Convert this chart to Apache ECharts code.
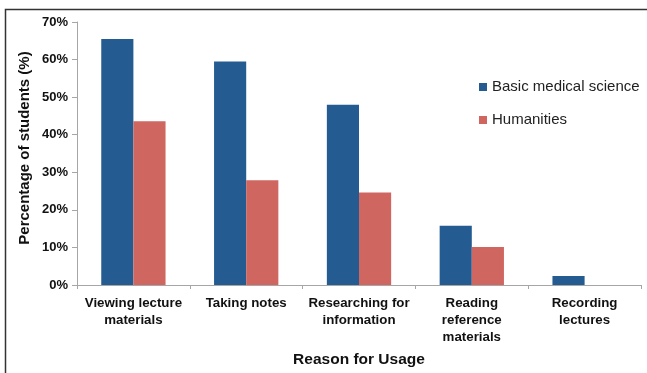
<!DOCTYPE html>
<html>
<head>
<meta charset="utf-8">
<script src="https://cdn.jsdelivr.net/npm/echarts@6/dist/echarts.min.js"></script>
<style>
  html, body { margin: 0; padding: 0; background: #fff; }
  #chart { width: 647px; height: 373px; }
</style>
</head>
<body>
<div id="chart"></div>
<script>
// Reasons students gave for using their devices, by study group (% of students)
const categories = [
  'Viewing lecture\nmaterials',
  'Taking notes',
  'Researching for\ninformation',
  'Reading\nreference\nmaterials',
  'Recording\nlectures'
];
const basicMedicalScience = [65.5, 59.5, 48.0, 15.8, 2.4];
const humanities = [43.6, 27.9, 24.6, 10.1, 0];
const seriesNames = ['Basic medical science', 'Humanities'];
const seriesColors = ['#245c92', '#cf6660'];
const yTitle = 'Percentage of students (%)';
const xTitle = 'Reason for Usage';

const chart = echarts.init(document.getElementById('chart'));
const fontFamily = '"Liberation Sans", Arial, sans-serif';

chart.setOption({
  animation: false,
  textStyle: { fontFamily },
  graphic: [
    {
      type: 'rect',
      shape: { x: 5.5, y: 9.5, width: 700, height: 400 },
      style: { fill: 'none', stroke: '#333', lineWidth: 1.5 },
      silent: true
    },
    {
      type: 'text',
      x: 25,
      y: 148,
      rotation: Math.PI / 2,
      style: {
        text: yTitle,
        font: 'bold 15px "Liberation Sans", Arial, sans-serif',
        fill: '#111',
        align: 'center',
        verticalAlign: 'middle'
      },
      silent: true
    }
  ],
  legend: {
    orient: 'vertical',
    left: 474,
    top: 74,
    itemWidth: 8,
    itemHeight: 8,
    itemGap: 17,
    icon: 'rect',
    textStyle: { fontSize: 15, lineHeight: 16, color: '#222', fontFamily },
    data: seriesNames
  },
  grid: { left: 77, right: 6, top: 22, bottom: 88 },
  xAxis: {
    type: 'category',
    data: categories,
    name: xTitle,
    nameLocation: 'middle',
    nameGap: 67,
    nameTextStyle: { fontSize: 15.5, fontWeight: 'bold', color: '#111' },
    axisLine: { lineStyle: { color: '#a6a6a6', width: 1 } },
    axisTick: { show: true, length: 4, alignWithLabel: false, lineStyle: { color: '#a6a6a6' } },
    axisLabel: {
      interval: 0,
      margin: 10,
      fontSize: 13.3,
      fontWeight: 'bold',
      color: '#111',
      lineHeight: 17
    }
  },
  yAxis: {
    type: 'value',
    min: 0,
    max: 70,
    interval: 10,
    axisLine: { show: true, lineStyle: { color: '#a6a6a6' } },
    axisTick: { show: true, length: 5, lineStyle: { color: '#a6a6a6' } },
    splitLine: { show: false },
    axisLabel: {
      formatter: '{value}%',
      fontSize: 13,
      fontWeight: 'bold',
      color: '#111',
      margin: 9
    }
  },
  series: [
    {
      name: seriesNames[0],
      type: 'bar',
      data: basicMedicalScience,
      barGap: '0%',
      barCategoryGap: '43%',
      itemStyle: { color: seriesColors[0] }
    },
    {
      name: seriesNames[1],
      type: 'bar',
      data: humanities,
      itemStyle: { color: seriesColors[1] }
    }
  ]
});
</script>
</body>
</html>
